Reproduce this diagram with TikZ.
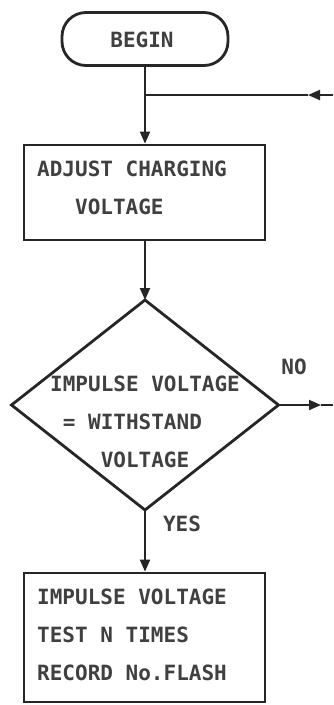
\documentclass[tikz,border=0pt]{standalone}
\usepackage{fontspec}
\setmonofont{DejaVu Sans Mono}
\usetikzlibrary{shapes.geometric,arrows.meta}
\tikzset{
  boxline/.style={draw=black!85, line width=2.8pt},
  txt/.style={font=\ttfamily\bfseries\fontsize{21}{38}\selectfont, text=black!75, inner sep=0pt, align=left},
  conn/.style={draw=black!85, line width=1.9pt},
  arr/.style={conn, -{Triangle[length=12pt,width=10pt]}},
}
\newcommand{\ind}[1]{\hphantom{#1}}
\begin{document}
\begin{tikzpicture}[x=1pt,y=-1pt]
\useasboundingbox[fill=white] (0,0) rectangle (333,705);
% nodes
\node[boxline, rectangle, rounded corners=24pt, minimum width=166pt, minimum height=53pt, inner sep=0pt] (begin) at (145,39) {};
\node[txt] (begintxt) at (142,40) {BEGIN};
\node[boxline, rectangle, minimum width=241pt, minimum height=95pt, inner sep=0pt] (adj) at (144.5,192.5) {};
\node[txt, anchor=north west] (adjtxt) at (37,161) {ADJUST CHARGING\\\ind{VOL}VOLTAGE};
\node[boxline, diamond, minimum width=267pt, minimum height=210pt, inner sep=0pt, outer sep=0pt] (dec) at (145,405) {};
\node[txt, anchor=north west] (dectxt) at (50,376) {IMPULSE VOLTAGE\\\ind{I}= WITHSTAND\\\ind{IMPU}VOLTAGE};
\node[boxline, rectangle, minimum width=241pt, minimum height=129pt, inner sep=0pt] (res) at (144.5,637.5) {};
\node[txt, anchor=north west] (restxt) at (37,589) {IMPULSE VOLTAGE\\TEST N TIMES\\RECORD No.FLASH};
\node[txt] (no) at (294,367) {NO};
\node[txt] (yes) at (182,524) {YES};
% coordinates
\coordinate (j) at (145,95);
\coordinate (a1) at (308,95);
\coordinate (r1) at (333,95);
\coordinate (a2) at (321,405);
\coordinate (r2) at (333,405);
% connectors
\draw[arr] (begin.south -| j) -- (adj.north -| j);
\draw[arr] (r1) -- (a1);
\draw[conn] (a1) -- (j);
\draw[arr] (adj.south -| j) -- (dec.north);
\draw[arr] (dec.east) -- (a2);
\draw[conn] (a2) -- (r2);
\draw[arr] (dec.south) -- (res.north -| dec.south);
\end{tikzpicture}
\end{document}
